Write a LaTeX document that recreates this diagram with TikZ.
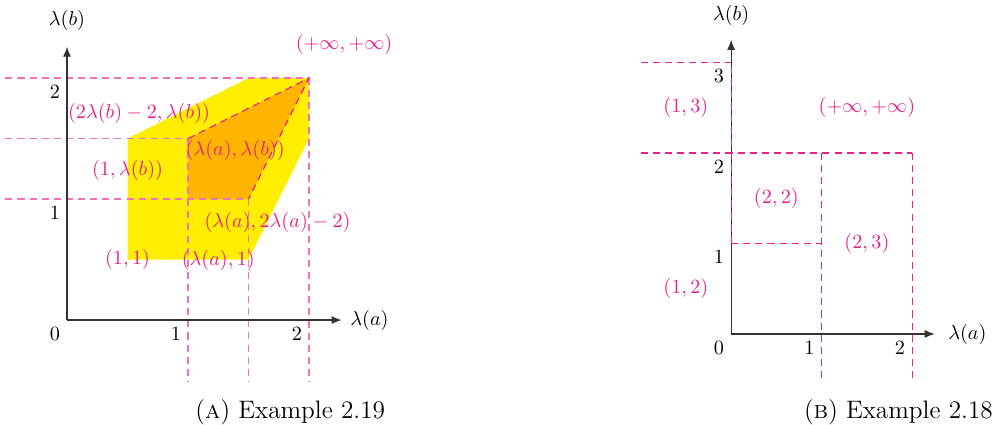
\documentclass[tikz,border=0pt]{standalone}
\usepackage{amsmath,amssymb}
\usepackage{tikz}
\usepackage{xcolor}
\usetikzlibrary{arrows.meta}
\definecolor{cutpink}{HTML}{E6208C}
\definecolor{softpink}{HTML}{F272B6}
\definecolor{regionyellow}{HTML}{FFEE00}
\definecolor{regionorange}{HTML}{FFB400}
\tikzset{
    % --- ESTILOS ---
    axis_line/.style={semithick, draw=black!80, -{Latex[length=5pt,width=4pt]}},
    cut_line/.style={draw=cutpink, semithick, dash pattern=on 3.5pt off 2.5pt},
    soft_cut/.style={draw=softpink, semithick, dash pattern=on 3.5pt off 2.5pt},
    region_label/.style={text=cutpink, inner sep=1pt},
    tick_label/.style={anchor=north east},
    caption_text/.style={font=\fontsize{12.5}{15}\selectfont}
}

\begin{document}
\begin{tikzpicture}
  \useasboundingbox (0,0) rectangle (17.45,-7.38);

  % (A) Example 2.19
  \begin{scope}[shift={(1.166cm,-5.568cm)}, x=2.105cm, y=2.105cm]
    \fill[regionyellow] (0.5,0.5) -- (0.5,1.5) -- (1.5,2) -- (2,2) -- (2,1.5) -- (1.5,0.5) -- cycle;
    \fill[regionorange] (1,1) -- (1,1.5) -- (2,2) -- (1.5,1) -- cycle;

    \draw[soft_cut] (-0.51,2) -- (2,2);
    \draw[soft_cut] (-0.51,1.5) -- (1,1.5);
    \draw[soft_cut] (-0.51,1) -- (1.5,1);
    \draw[soft_cut] (1,1.5) -- (1,-0.51);
    \draw[soft_cut] (1.5,1) -- (1.5,-0.51);
    \draw[soft_cut] (2,2) -- (2,-0.51);
    \draw[cut_line] (1,1.5) -- (2,2) -- (1.5,1);

    \draw[axis_line] (0,0) -- (2.27,0);
    \draw[axis_line] (0,0) -- (0,2.26);
    \node (la_a) at (2.5,0) {$\lambda(a)$};
    \node (lb_a) at (0,2.48) {$\lambda(b)$};

    \node[tick_label] (o_a) at (0,0) {$0$};
    \node[tick_label] (x1_a) at (1,0) {$1$};
    \node[tick_label] (x2_a) at (2,0) {$2$};
    \node[tick_label] (y1_a) at (0,1) {$1$};
    \node[tick_label] (y2_a) at (0,2) {$2$};

    \node[region_label] (inf_a) at (2.29,2.28) {$(+\infty,+\infty)$};
    \node[region_label] (top_a) at (0.595,1.71) {$(2\lambda(b)-2,\lambda(b))$};
    \node[region_label] (mid_a) at (1.39,1.40) {$(\lambda(a),\lambda(b))$};
    \node[region_label] (left_a) at (0.5,1.24) {$(1,\lambda(b))$};
    \node[region_label] (right_a) at (1.74,0.81) {$(\lambda(a),2\lambda(a)-2)$};
    \node[region_label] (one_a) at (0.5,0.5) {$(1,1)$};
    \node[region_label] (low_a) at (1.25,0.49) {$(\lambda(a),1)$};
  \end{scope}
  \node[caption_text] (cap_a) at (5.05,-7.17) {(\textsc{a}) Example 2.19};

  % (B) Example 2.18
  \begin{scope}[shift={(12.72cm,-5.81cm)}, x=1.575cm, y=1.575cm]
    \draw[axis_line] (0,0) -- (2.25,0);
    \draw[axis_line] (0,0) -- (0,3.25);
    \node (la_b) at (2.61,0) {$\lambda(a)$};
    \node (lb_b) at (0,3.52) {$\lambda(b)$};

    \draw[cut_line] (-1,3) -- (0,3);
    \draw[cut_line] (-1,2) -- (2,2);
    \draw[cut_line] (0,1) -- (0,3);
    \draw[cut_line] (0,1) -- (1,1);
    \draw[cut_line] (1,2) -- (1,-0.53);
    \draw[cut_line] (2,2) -- (2,-0.53);

    \node[tick_label] (o_b) at (0,0) {$0$};
    \node[tick_label] (x1_b) at (1,0) {$1$};
    \node[tick_label] (x2_b) at (2,0) {$2$};
    \node[tick_label] (y1_b) at (0,1) {$1$};
    \node[tick_label] (y2_b) at (0,2) {$2$};
    \node[tick_label] (y3_b) at (0,3) {$3$};

    \node[region_label] (r13) at (-0.5,2.5) {$(1,3)$};
    \node[region_label] (inf_b) at (1.5,2.5) {$(+\infty,+\infty)$};
    \node[region_label] (r22) at (0.5,1.5) {$(2,2)$};
    \node[region_label] (r23) at (1.5,1) {$(2,3)$};
    \node[region_label] (r12) at (-0.5,0.5) {$(1,2)$};
  \end{scope}
  \node[caption_text] (cap_b) at (15.63,-7.17) {(\textsc{b}) Example 2.18};
\end{tikzpicture}
\end{document}
